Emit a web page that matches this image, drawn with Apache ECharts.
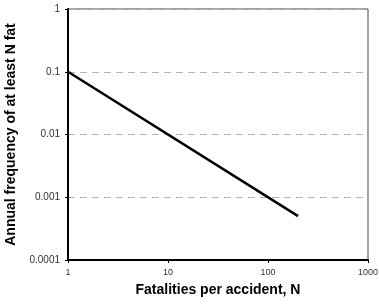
<!DOCTYPE html>
<html><head><meta charset="utf-8">
<script src="https://cdn.jsdelivr.net/npm/echarts@6/dist/echarts.min.js"></script>
<style>html,body{margin:0;padding:0;background:#fff}#c{width:379px;height:308px}</style>
</head><body><div id="c"></div>
<script>
var fatalities = [1, 200];
var frequency = [0.1, 0.0005];
var xTicks = ['1', '10', '100', '1000'];
var yTicks = ['0.0001', '0.001', '0.01', '0.1', '1'];
var xTitle = 'Fatalities per accident, N';
var yTitle = 'Annual frequency of at least N fat';

var chart = echarts.init(document.getElementById('c'));
var font = 'Liberation Sans, Arial, sans-serif';
function fmt(v){
  var e = Math.round(Math.log10(v));
  return e >= 0 ? String(Math.pow(10, e)) : '0.' + '0'.repeat(-e - 1) + '1';
}
chart.setOption({
  animation: false,
  grid: {left: 68, right: 11, top: 9, bottom: 48, containLabel: false, outerBoundsMode: 'none',
         show: true, borderColor: '#444', borderWidth: 1},
  xAxis: {
    type: 'log', logBase: 10, min: 1, max: 1000,
    name: xTitle, nameLocation: 'middle', nameGap: 23,
    nameTextStyle: {fontFamily: font, fontWeight: 'bold', fontSize: 14, color: '#000'},
    axisLine: {lineStyle: {color: '#000', width: 2}},
    axisTick: {show: true, length: 3, lineStyle: {color: '#000'}},
    minorTick: {show: false},
    splitLine: {show: false},
    axisLabel: {fontFamily: font, fontSize: 9, color: '#333', margin: 8, formatter: fmt}
  },
  yAxis: {
    type: 'log', logBase: 10, min: 0.0001, max: 1,
    name: yTitle, nameLocation: 'middle', nameGap: 49,
    nameTextStyle: {fontFamily: font, fontWeight: 'bold', fontSize: 14, color: '#000'},
    axisLine: {show: true, lineStyle: {color: '#000', width: 2}},
    axisTick: {show: true, length: 3, lineStyle: {color: '#000'}},
    splitLine: {show: true, lineStyle: {color: '#b4b4b4', type: [7, 5], width: 1}},
    axisLabel: {fontFamily: font, fontSize: 10, color: '#333', margin: 8, formatter: fmt}
  },
  series: [{
    type: 'line',
    data: fatalities.map(function(x, i){ return [x, frequency[i]]; }),
    showSymbol: false,
    lineStyle: {color: '#000', width: 2.5}
  }]
});
</script></body></html>
